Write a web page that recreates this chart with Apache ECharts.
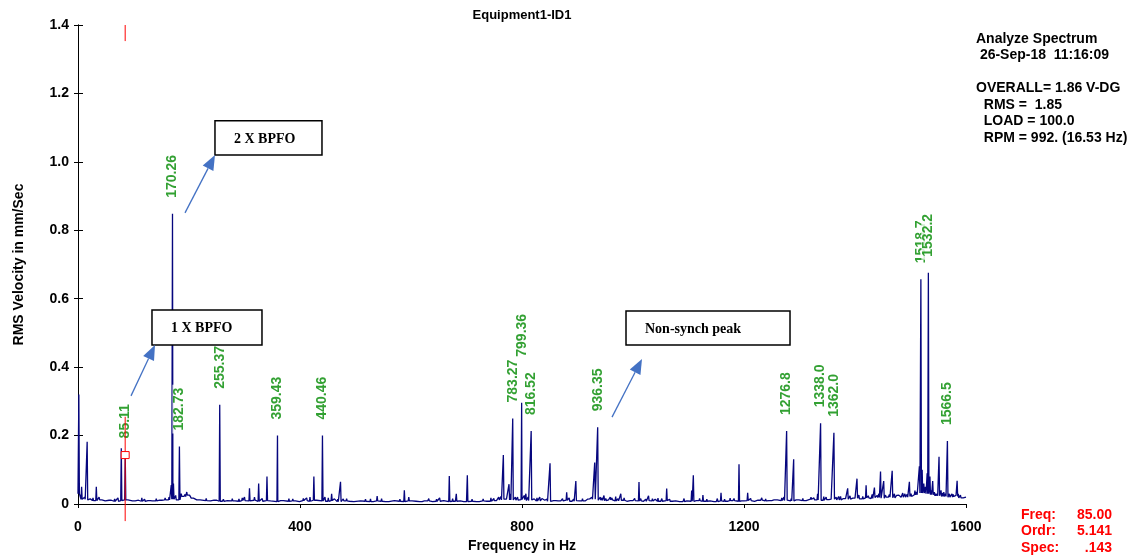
<!DOCTYPE html>
<html>
<head>
<meta charset="utf-8">
<script src="https://cdn.jsdelivr.net/npm/echarts@6/dist/echarts.min.js"></script>
<style>
  html, body { margin: 0; padding: 0; background: #fff; }
  #chart { width: 1138px; height: 558px; }
</style>
</head>
<body>
<div id="chart"></div>
<script>
// ---- Spectrum data (Hz, mm/s RMS) ----
const floorStepHz = 10;
// broadband noise floor, one reading every 10 Hz from 0 to 1600 Hz
const noiseFloor = [
  0.030, 0.014, 0.012, 0.010, 0.012, 0.009, 0.011, 0.008, 0.010, 0.012, 0.009, 0.011, 0.008, 0.010, 0.009, 0.011,
  0.012, 0.014, 0.012, 0.022, 0.026, 0.017, 0.012, 0.010, 0.009, 0.011, 0.008, 0.010, 0.009, 0.008, 0.010,
  0.009, 0.011, 0.008, 0.010, 0.009, 0.007, 0.010, 0.008, 0.009, 0.007, 0.010, 0.008, 0.011, 0.009, 0.008,
  0.010, 0.007, 0.009, 0.008, 0.007, 0.009, 0.008, 0.007, 0.009, 0.008, 0.007, 0.010, 0.008, 0.007, 0.009,
  0.008, 0.007, 0.009, 0.007, 0.008, 0.010, 0.007, 0.008, 0.009, 0.007, 0.008, 0.007, 0.009, 0.008, 0.010,
  0.012, 0.014, 0.012, 0.011, 0.013, 0.010, 0.012, 0.009, 0.011, 0.008, 0.010, 0.009, 0.011, 0.008, 0.010,
  0.009, 0.012, 0.014, 0.011, 0.010, 0.012, 0.009, 0.011, 0.008, 0.010, 0.009, 0.008, 0.010, 0.009, 0.008,
  0.010, 0.008, 0.009, 0.007, 0.009, 0.008, 0.010, 0.008, 0.009, 0.007, 0.009, 0.008, 0.010, 0.008, 0.009,
  0.010, 0.008, 0.011, 0.009, 0.010, 0.012, 0.010, 0.011, 0.009, 0.012, 0.010, 0.014, 0.012, 0.011, 0.013,
  0.014, 0.012, 0.016, 0.014, 0.017, 0.015, 0.018, 0.016, 0.019, 0.017, 0.020, 0.018, 0.022, 0.020, 0.022,
  0.027, 0.032, 0.030, 0.027, 0.024, 0.022, 0.020, 0.022, 0.018, 0.020
];

// dominant spectral lines [frequency Hz, amplitude mm/s]
const peaks = [
  [1.5, 0.32], [6.5, 0.05], [16.5, 0.182], [33, 0.05], [38, 0.02], [50, 0.012], [66, 0.015], [78, 0.163],
  [85.11, 0.145], [99, 0.012], [110, 0.010], [120, 0.014], [135, 0.012], [150, 0.015], [164, 0.020],
  [168, 0.055], [170.26, 0.848], [172, 0.060], [182.73, 0.168], [190, 0.025], [196, 0.035], [200, 0.030],
  [205, 0.020], [215, 0.012], [240, 0.010], [255.37, 0.290], [270, 0.012], [290, 0.015], [300, 0.020],
  [309, 0.046], [325.5, 0.060], [340.5, 0.080], [359.43, 0.200], [372, 0.015], [387, 0.015], [400, 0.012],
  [412, 0.018], [425, 0.080], [440.46, 0.200], [445, 0.020], [457, 0.030], [462, 0.015], [473, 0.065],
  [478, 0.015], [490, 0.012], [510, 0.010], [527, 0.015], [539, 0.023], [555, 0.012], [572, 0.012],
  [588, 0.040], [596, 0.020], [610, 0.012], [625, 0.010], [640, 0.012], [651.6, 0.018], [669, 0.082],
  [681.6, 0.030], [690, 0.012], [701.5, 0.084], [719, 0.012], [730, 0.015], [738, 0.010], [749.5, 0.016],
  [758, 0.020], [766.4, 0.143], [776.6, 0.058], [783.27, 0.250], [788, 0.020], [792, 0.020], [799.36, 0.296],
  [804, 0.025], [807, 0.030], [816.52, 0.213], [822, 0.015], [832, 0.020], [840, 0.012], [850.5, 0.119],
  [858, 0.015], [866, 0.010], [880.5, 0.034], [889, 0.012], [897, 0.067], [905, 0.010], [914.7, 0.013],
  [922, 0.015], [931, 0.121], [936.35, 0.224], [941, 0.020], [947.7, 0.025], [955, 0.015], [962, 0.018],
  [968.8, 0.022], [978, 0.030], [990, 0.012], [1010.8, 0.064], [1018, 0.012], [1028, 0.024], [1045, 0.017],
  [1060.7, 0.045], [1070, 0.012], [1085, 0.010], [1105.7, 0.039], [1108.7, 0.084], [1115, 0.012],
  [1126, 0.026], [1140, 0.010], [1158.6, 0.033], [1175, 0.017], [1191, 0.116], [1206.6, 0.033],
  [1220, 0.012], [1239, 0.015], [1255, 0.012], [1272, 0.020], [1276.8, 0.213], [1280, 0.015],
  [1289.5, 0.131], [1300, 0.012], [1320.7, 0.020], [1332.6, 0.030], [1338.0, 0.236], [1343.7, 0.022],
  [1352, 0.015], [1362.0, 0.208], [1370.6, 0.022], [1378, 0.015], [1386.8, 0.046], [1395, 0.018],
  [1403.6, 0.074], [1410, 0.020], [1420, 0.055], [1428, 0.020], [1435, 0.048], [1440, 0.025],
  [1446, 0.095], [1451.7, 0.067], [1458, 0.020], [1467, 0.097], [1475, 0.025], [1483, 0.020],
  [1490, 0.030], [1498, 0.065], [1503, 0.025], [1508, 0.039], [1513, 0.030], [1516, 0.110],
  [1518.7, 0.657], [1521, 0.100], [1524, 0.060], [1527, 0.050], [1530, 0.090], [1532.2, 0.676],
  [1535, 0.080], [1540, 0.067], [1545, 0.030], [1551.4, 0.138], [1555, 0.040], [1560, 0.035],
  [1566.5, 0.184], [1570, 0.030], [1574.7, 0.030], [1580, 0.020], [1584, 0.068], [1588, 0.020],
  [1592, 0.020], [1597, 0.015]
];

// small lines riding on the noise floor [frequency Hz, amplitude mm/s]
const minorLines = [
  [12, 0.020], [22, 0.015], [27, 0.018], [44, 0.014], [57, 0.016], [62, 0.012], [72, 0.018], [92, 0.016],
  [104, 0.014], [115, 0.018], [127, 0.012], [141, 0.016], [146, 0.012], [157, 0.018], [176, 0.025],
  [186, 0.030], [193, 0.028], [209, 0.022], [222, 0.014], [231, 0.016], [246, 0.012], [262, 0.014],
  [278, 0.016], [284, 0.012], [296, 0.018], [318, 0.020], [332, 0.016], [348, 0.014], [366, 0.012],
  [380, 0.016], [393, 0.014], [406, 0.016], [418, 0.020], [432, 0.014], [451, 0.018], [468, 0.014],
  [484, 0.016], [498, 0.012], [518, 0.014], [533, 0.012], [547, 0.016], [562, 0.012], [580, 0.014],
  [603, 0.014], [617, 0.012], [632, 0.016], [646, 0.014], [660, 0.014], [675, 0.016], [696, 0.012],
  [710, 0.014], [724, 0.012], [744, 0.018], [753, 0.014], [762, 0.022], [771, 0.016], [779, 0.030],
  [811, 0.020], [827, 0.018], [836, 0.016], [845, 0.014], [862, 0.014], [873, 0.016], [885, 0.018],
  [893, 0.014], [909, 0.016], [918, 0.014], [926, 0.020], [944, 0.018], [951, 0.016], [959, 0.020],
  [973, 0.016], [984, 0.018], [996, 0.014], [1003, 0.016], [1014, 0.016], [1023, 0.014], [1035, 0.016],
  [1040, 0.014], [1052, 0.016], [1066, 0.014], [1078, 0.012], [1092, 0.016], [1098, 0.014], [1120, 0.016],
  [1133, 0.014], [1147, 0.012], [1152, 0.016], [1165, 0.014], [1182, 0.016], [1197, 0.014], [1212, 0.016],
  [1226, 0.014], [1232, 0.018], [1246, 0.014], [1262, 0.016], [1268, 0.018], [1285, 0.016], [1295, 0.014],
  [1306, 0.016], [1313, 0.014], [1326, 0.018], [1348, 0.020], [1356, 0.018], [1366, 0.020], [1374, 0.022],
  [1382, 0.020], [1391, 0.024], [1399, 0.020], [1407, 0.026], [1414, 0.022], [1424, 0.024], [1431, 0.028],
  [1443, 0.030], [1455, 0.026], [1462, 0.028], [1471, 0.030], [1479, 0.026], [1486, 0.032], [1494, 0.028],
  [1501, 0.030], [1511, 0.035], [1537, 0.040], [1543, 0.035], [1548, 0.030], [1558, 0.032], [1563, 0.030],
  [1577, 0.028], [1582, 0.025], [1586, 0.030], [1590, 0.026], [1594, 0.022], [1599, 0.020]
];

// peaks tagged with their frequency
const peakLabels = ['85.11', '170.26', '182.73', '255.37', '359.43', '440.46', '783.27', '799.36',
  '816.52', '936.35', '1276.8', '1338.0', '1362.0', '1518.7', '1532.2', '1566.5'];

// cursor readout
const cursorFreq = 85.00;
const cursorOrdr = '5.141';
const cursorSpec = 0.143;

// header block
const headerLines = ['Analyze Spectrum', ' 26-Sep-18  11:16:09', '', 'OVERALL= 1.86 V-DG',
  '  RMS =  1.85', '  LOAD = 100.0', '  RPM = 992. (16.53 Hz)'];

// ---- layout / style ----
const FONT = "'Liberation Sans', Arial, sans-serif";
const SERIF = "'Liberation Serif', 'DejaVu Serif', serif";
const LINE_COLOR = '#06067e';
const LABEL_GREEN = '#008a00';
const ARROW_BLUE = '#4472c4';
const peakHalfWidth = 1.0;          // Hz each side of a spectral line
const labelGap = 13;                // px between peak top and its tag
const labelLift = { '799.36': 43 }; // tag stacked above its neighbour

// annotation call-outs, in chart units (Hz, mm/s)
const callouts = [
  { text: '2 X BPFO', box: [246.8, 1.120, 439.6, 1.020], tail: [192.8, 0.851], tip: [246.8, 1.020] },
  { text: '1 X BPFO', box: [133.3, 0.567, 331.5, 0.465], tail: [95.5, 0.316], tip: [138.7, 0.465] },
  { text: 'Non-synch peak', box: [987.4, 0.564, 1282.9, 0.465], tail: [962.2, 0.254], tip: [1016.2, 0.424] }
];

// ---- build the spectrum polyline ----
const spectrum = noiseFloor.map((v, i) => [i * floorStepHz, v]);
peaks.concat(minorLines).forEach(([f, a]) => {
  const base = noiseFloor[Math.round(f / floorStepHz)];
  spectrum.push([f - peakHalfWidth, base], [f, a], [f + peakHalfWidth, base]);
});
spectrum.sort((p, q) => p[0] - q[0]);

const tagged = peakLabels.map(t => {
  const pk = peaks.find(p => p[0] === parseFloat(t));
  const item = { value: [pk[0], pk[1]], name: t };
  if (labelLift[t]) item.label = { distance: labelLift[t] };
  return item;
});

const chart = echarts.init(document.getElementById('chart'), null, { renderer: 'canvas' });

const axisLineStyle = { lineStyle: { color: '#000', width: 1 } };
const tickFont = { color: '#000', fontFamily: FONT, fontWeight: 'bold', fontSize: 14 };

chart.setOption({
  animation: false,
  backgroundColor: '#fff',
  grid: { left: 78, right: 172, top: 25, bottom: 54, show: false },
  xAxis: [
    {
      type: 'value', position: 'bottom', min: 0, max: 1600, interval: 400,
      axisLine: axisLineStyle,
      axisTick: { show: false },
      splitLine: { show: false },
      axisLabel: Object.assign({ margin: 16, formatter: v => String(v) }, tickFont),
      name: 'Frequency in Hz', nameLocation: 'middle', nameGap: 35,
      nameTextStyle: { color: '#000', fontFamily: FONT, fontWeight: 'bold', fontSize: 14 }
    },
    {
      type: 'value', position: 'top', min: 0, max: 1600, interval: 400,
      axisLine: axisLineStyle,
      axisTick: { show: true, inside: true, length: 4, lineStyle: { color: '#000' } },
      axisLabel: { show: false }, splitLine: { show: false }
    }
  ],
  yAxis: [
    {
      type: 'value', position: 'left', min: 0, max: 1.4, interval: 0.2,
      axisLine: { show: true, lineStyle: { color: '#000', width: 1 } },
      axisTick: { show: true, length: 4, lineStyle: { color: '#000' } },
      splitLine: { show: false },
      axisLabel: Object.assign({ margin: 9, formatter: v => v === 0 ? '0' : v.toFixed(1) }, tickFont),
      name: 'RMS Velocity in mm/Sec', nameLocation: 'middle', nameGap: 52, nameRotate: 90,
      nameTextStyle: { color: '#000', fontFamily: FONT, fontWeight: 'bold', fontSize: 14 }
    },
    {
      type: 'value', position: 'right', min: 0, max: 1.4, interval: 0.2,
      axisLine: { show: true, lineStyle: { color: '#000', width: 1 } },
      axisTick: { show: true, length: 5, lineStyle: { color: '#000' } },
      axisLabel: { show: false }, splitLine: { show: false }
    }
  ],
  series: [
    {
      name: 'spectrum', type: 'line', data: spectrum, xAxisIndex: 0, yAxisIndex: 0,
      showSymbol: false, symbol: 'none', z: 2,
      lineStyle: { color: LINE_COLOR, width: 1.3 }
    },
    {
      name: 'peak tags', type: 'scatter', data: tagged, xAxisIndex: 0, yAxisIndex: 0,
      symbolSize: 0, z: 3, silent: true,
      label: {
        show: true, position: 'top', distance: labelGap, rotate: 90,
        align: 'left', verticalAlign: 'middle',
        formatter: p => p.name,
        color: LABEL_GREEN, fontFamily: FONT, fontWeight: 'bold', fontSize: 14,
        backgroundColor: '#fff', padding: [0, 3]
      }
    }
  ]
});

// ---- overlays drawn in chart units ----
const px = (f, v) => chart.convertToPixel({ xAxisIndex: 0, yAxisIndex: 0 }, [f, v]);
const g = [];
const txt = (x, y, text, font, fill, align) => ({
  type: 'text', x, y, z: 120, silent: true,
  style: { text, font, fill, align: align || 'left', verticalAlign: 'middle',
           textAlign: align || 'left', textVerticalAlign: 'middle' }
});

// title centred over the plot
const pl = px(0, 1.4), pr = px(1600, 0);
g.push(txt((pl[0] + pr[0]) / 2, 15, 'Equipment1-ID1', 'bold 13px ' + FONT, '#000', 'center'));

// call-out boxes and arrows
callouts.forEach(c => {
  const a = px(c.box[0], c.box[1]), b = px(c.box[2], c.box[3]);
  g.push({ type: 'rect', z: 100, silent: true,
    shape: { x: a[0], y: a[1], width: b[0] - a[0], height: b[1] - a[1] },
    style: { fill: '#fff', stroke: '#000', lineWidth: 1.5 } });
  g.push(txt(a[0] + 19, (a[1] + b[1]) / 2 + 1, c.text, 'bold 14px ' + SERIF, '#000'));
  const t0 = px(c.tail[0], c.tail[1]), t1 = px(c.tip[0], c.tip[1]);
  const dx = t1[0] - t0[0], dy = t1[1] - t0[1], len = Math.hypot(dx, dy);
  const ux = dx / len, uy = dy / len, head = 15, half = 6;
  const bx = t1[0] - ux * head, by = t1[1] - uy * head;
  g.push({ type: 'line', z: 100, silent: true,
    shape: { x1: t0[0], y1: t0[1], x2: bx, y2: by },
    style: { stroke: ARROW_BLUE, lineWidth: 1.3 } });
  g.push({ type: 'polygon', z: 100, silent: true,
    shape: { points: [t1, [bx - uy * half, by + ux * half], [bx + uy * half, by - ux * half]] },
    style: { fill: ARROW_BLUE } });
});

// cursor at the selected line
const cTop = px(cursorFreq, 1.4), cTopEnd = px(cursorFreq, 1.353);
const cHi = px(cursorFreq, 0.255), cLo = px(cursorFreq, -0.05), cMark = px(cursorFreq, cursorSpec);
g.push({ type: 'line', z: 110, silent: true, shape: { x1: cTop[0], y1: cTop[1], x2: cTopEnd[0], y2: cTopEnd[1] },
  style: { stroke: '#ff0000', lineWidth: 1 } });
g.push({ type: 'line', z: 110, silent: true, shape: { x1: cHi[0], y1: cHi[1], x2: cLo[0], y2: cLo[1] },
  style: { stroke: '#ff0000', lineWidth: 1 } });
g.push({ type: 'rect', z: 111, silent: true, shape: { x: cMark[0] - 4, y: cMark[1] - 3.5, width: 8, height: 7 },
  style: { fill: '#fff', stroke: '#ff0000', lineWidth: 1 } });

// header block at the right
headerLines.forEach((line, i) => {
  if (line) g.push(txt(pr[0] + 10, 39 + i * 16.5, line, 'bold 14px ' + FONT, '#000'));
});

// cursor readout
const readout = [['Freq:', cursorFreq.toFixed(2)], ['Ordr:', cursorOrdr], ['Spec:', cursorSpec.toFixed(3).replace(/^0/, '')]];
readout.forEach((r, i) => {
  g.push(txt(1021, 515 + i * 16.5, r[0], 'bold 14px ' + FONT, '#ff0000'));
  g.push(txt(1112, 515 + i * 16.5, r[1], 'bold 14px ' + FONT, '#ff0000', 'right'));
});

chart.setOption({ graphic: { elements: g } });
</script>
</body>
</html>
